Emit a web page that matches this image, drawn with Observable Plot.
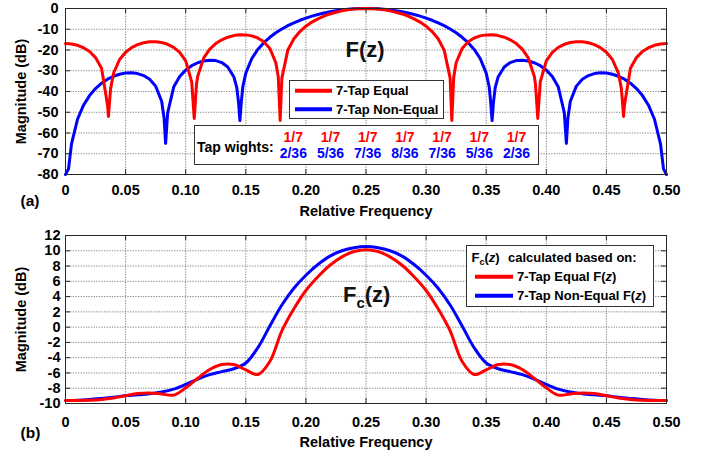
<!DOCTYPE html>
<html>
<head>
<meta charset="utf-8">
<script src="https://cdn.jsdelivr.net/npm/d3@7"></script>
<script src="https://cdn.jsdelivr.net/npm/@observablehq/plot@0.6"></script>
<style>
  body { margin: 0; background: #fff; }
  #chart { width: 710px; height: 457px; position: relative; overflow: hidden; }
  #chart svg { display: block; }
</style>
</head>
<body>
<div id="chart"></div>
<script>
// ---------- data ----------
const xTicks = [0, 0.05, 0.1, 0.15, 0.2, 0.25, 0.3, 0.35, 0.4, 0.45, 0.5];
const yTicksTop = [-80, -70, -60, -50, -40, -30, -20, -10, 0];
const yTicksBottom = [-10, -8, -6, -4, -2, 0, 2, 4, 6, 8, 10, 12];

const seriesNames = ["7-Tap Equal", "7-Tap Non-Equal"];
const seriesColors = ["#ff0000", "#0000ff"];
const fcLegendNames = ["7-Tap Equal F", "7-Tap Non-Equal F"];

const tapEqual = ["1/7", "1/7", "1/7", "1/7", "1/7", "1/7", "1/7"];
const tapNonEqual = ["2/36", "5/36", "7/36", "8/36", "7/36", "5/36", "2/36"];

// (a) F(z), 7-tap equal weights
const freqEqual = [0,0.005,0.01,0.015,0.02,0.025,0.03,0.035,0.0357,0.0375,0.04,0.045,0.05,0.055,0.06,0.065,0.07,0.075,0.08,0.085,0.09,0.095,0.1,0.105,0.1071,0.109,0.11,0.115,0.12,0.125,0.13,0.135,0.14,0.145,0.15,0.155,0.16,0.165,0.17,0.175,0.177,0.1786,0.18,0.185,0.19,0.195,0.2,0.205,0.21,0.215,0.22,0.225,0.23,0.235,0.24,0.245,0.25,
  0.255,0.26,0.265,0.27,0.275,0.28,0.285,0.29,0.295,0.3,0.305,0.31,0.315,0.32,0.3214,0.323,0.325,0.33,0.335,0.34,0.345,0.35,0.355,0.36,0.365,0.37,0.375,0.38,0.385,0.39,0.391,0.3929,0.395,0.4,0.405,0.41,0.415,0.42,0.425,0.43,0.435,0.44,0.445,0.45,0.455,0.46,0.4625,0.4643,0.465,0.47,0.475,0.48,0.485,0.49,0.495,0.5];
const magEqual = [-16.90,-17.11,-17.75,-18.91,-20.74,-23.65,-28.83,-46.75,-52,-38.74,-31.17,-24.57,-21.08,-18.87,-17.42,-16.51,-16.05,-16.01,-16.39,-17.25,-18.72,-21.12,-25.26,-35.38,-53,-36.4,-32.68,-23.81,-19.58,-16.90,-15.08,-13.84,-13.06,-12.69,-12.72,-13.20,-14.23,-16.04,-19.24,-26.16,-33.04,-54,-33.53,-19.97,-14.57,-11.09,-8.54,-6.56,-4.97,-3.68,-2.63,-1.79,-1.13,-0.63,-0.28,-0.07,0,
  -0.07,-0.28,-0.63,-1.13,-1.79,-2.63,-3.68,-4.97,-6.56,-8.54,-11.09,-14.57,-19.97,-33.53,-54,-33.04,-26.16,-19.24,-16.04,-14.23,-13.20,-12.72,-12.69,-13.06,-13.84,-15.08,-16.90,-19.58,-23.81,-32.68,-36.4,-53,-35.38,-25.26,-21.12,-18.72,-17.25,-16.39,-16.01,-16.05,-16.51,-17.42,-18.87,-21.08,-24.57,-31.17,-38.74,-52,-46.75,-28.83,-23.65,-20.74,-18.91,-17.75,-17.11,-16.90];

// (a) F(z), 7-tap non-equal weights
const freqNonEqual = [0,0.0025,0.005,0.01,0.015,0.02,0.025,0.03,0.035,0.04,0.045,0.05,0.055,0.06,0.065,0.07,0.075,0.08,0.082,0.0833,0.085,0.09,0.095,0.1,0.105,0.11,0.115,0.12,0.125,0.13,0.135,0.14,0.1425,0.144,0.1451,0.1462,0.1475,0.15,0.155,0.16,0.165,0.17,0.175,0.18,0.185,0.19,0.195,0.2,0.205,0.21,0.215,0.22,0.225,0.23,0.235,0.24,0.245,0.25,
  0.255,0.26,0.265,0.27,0.275,0.28,0.285,0.29,0.295,0.3,0.305,0.31,0.315,0.32,0.325,0.33,0.335,0.34,0.345,0.35,0.3525,0.3538,0.3549,0.356,0.3575,0.36,0.365,0.37,0.375,0.38,0.385,0.39,0.395,0.4,0.405,0.41,0.415,0.4167,0.418,0.42,0.425,0.43,0.435,0.44,0.445,0.45,0.455,0.46,0.465,0.47,0.475,0.48,0.485,0.49,0.495,0.4975,0.5];
const magNonEqual = [-80,-77.3,-65.27,-53.38,-46.60,-41.97,-38.57,-36.01,-34.08,-32.65,-31.68,-31.13,-31.01,-31.37,-32.33,-34.13,-37.41,-44.72,-52.7,-65,-50.24,-37.86,-32.81,-29.69,-27.57,-26.13,-25.25,-24.89,-25.11,-26.06,-28.18,-32.87,-38.14,-45.5,-54,-45.5,-37.83,-31.13,-24.10,-19.73,-16.49,-13.89,-11.72,-9.88,-8.28,-6.89,-5.67,-4.61,-3.68,-2.87,-2.17,-1.58,-1.09,-0.69,-0.39,-0.17,-0.04,0,
  -0.04,-0.17,-0.39,-0.69,-1.09,-1.58,-2.17,-2.87,-3.68,-4.61,-5.67,-6.89,-8.28,-9.88,-11.72,-13.89,-16.49,-19.73,-24.10,-31.13,-37.83,-45.5,-54,-45.5,-38.14,-32.87,-28.18,-26.06,-25.11,-24.89,-25.25,-26.13,-27.57,-29.69,-32.81,-37.86,-50.24,-65,-52.7,-44.72,-37.41,-34.13,-32.33,-31.37,-31.01,-31.13,-31.68,-32.65,-34.08,-36.01,-38.57,-41.97,-46.60,-53.38,-65.27,-77.3,-80];

// (b) Fc(z)
const freqFc = [0,0.01,0.02,0.03,0.04,0.05,0.06,0.07,0.08,0.09,0.1,0.11,0.12,0.13,0.14,0.15,0.16,0.17,0.18,0.19,0.2,0.21,0.22,0.23,0.24,0.25,
  0.26,0.27,0.28,0.29,0.3,0.31,0.32,0.33,0.34,0.35,0.36,0.37,0.38,0.39,0.4,0.41,0.42,0.43,0.44,0.45,0.46,0.47,0.48,0.49,0.5];
const fcEqual = [-9.6,-9.6,-9.58,-9.48,-9.28,-8.98,-8.7,-8.62,-8.75,-8.9,-7.95,-6.7,-5.55,-4.9,-4.9,-5.6,-6.2,-4.5,-0.5,2.4,4.8,6.6,8.1,9.2,9.9,10.15,
  9.9,9.2,8.1,6.6,4.8,2.4,-0.5,-4.5,-6.2,-5.6,-4.9,-4.9,-5.55,-6.7,-7.95,-8.9,-8.75,-8.62,-8.7,-8.98,-9.28,-9.48,-9.58,-9.6,-9.6];
const fcNonEqual = [-9.6,-9.56,-9.47,-9.33,-9.17,-9.0,-8.87,-8.72,-8.5,-8.12,-7.5,-6.8,-6.22,-5.83,-5.45,-4.7,-2.7,0.15,2.9,5.1,6.8,8.2,9.3,10.0,10.4,10.55,
  10.4,10.0,9.3,8.2,6.8,5.1,2.9,0.15,-2.7,-4.7,-5.45,-5.83,-6.22,-6.8,-7.5,-8.12,-8.5,-8.72,-8.87,-9.0,-9.17,-9.33,-9.47,-9.56,-9.6];

// ---------- helpers ----------
const FONT = "'Liberation Sans', Arial, Helvetica, sans-serif";
const rows = (fs, vs) => fs.map((f, i) => ({f, v: vs[i]}));
const xFmt = d => d === 0 ? "0" : d.toFixed(2);
const gridStyle = {stroke: "#858585", strokeOpacity: 1, strokeDasharray: "1.3,1.3", strokeWidth: 1};
const frameColor = "#262626";

function panel({height, marginTop, marginBottom, yDomain, yTicks, xPad, yPad, titleDy, tagDy, tag, lines, curve}) {
  const marginLeft = 65, marginRight = 44, width = 710;
  const innerH = height - marginTop - marginBottom;
  const innerW = width - marginLeft - marginRight;
  const tl = 5;
  return Plot.plot({
    width, height, marginTop, marginBottom, marginLeft, marginRight,
    style: {fontFamily: FONT, fontSize: "14.5px", fontWeight: "bold", color: "#000", background: "#fff"},
    x: {domain: [0, 0.5]},
    y: {domain: yDomain},
    marks: [
      Plot.gridX(xTicks, gridStyle),
      Plot.gridY(yTicks, gridStyle),
      ...lines.map(l => Plot.line(l.data, {x: "f", y: "v", stroke: l.color, strokeWidth: 3, curve})),
      Plot.frame({stroke: frameColor, strokeWidth: 1}),
      Plot.tickX(xTicks, {x: d => d, insetTop: innerH - tl, stroke: frameColor}),
      Plot.tickX(xTicks, {x: d => d, insetBottom: innerH - tl, stroke: frameColor}),
      Plot.tickY(yTicks, {y: d => d, insetRight: innerW - tl, stroke: frameColor}),
      Plot.tickY(yTicks, {y: d => d, insetLeft: innerW - tl, stroke: frameColor}),
      Plot.axisX(xTicks, {tickSize: 0, tickPadding: xPad, tickFormat: xFmt, label: null}),
      Plot.axisY(yTicks, {tickSize: 0, tickPadding: yPad, tickFormat: d => String(d), label: null}),
      Plot.text(["Magnitude (dB)"], {text: d => d, frameAnchor: "left", dx: -44, rotate: -90, textAnchor: "middle", lineAnchor: "middle"}),
      Plot.text(["Relative Frequency"], {text: d => d, frameAnchor: "bottom", dy: titleDy, lineAnchor: "bottom", textAnchor: "middle"}),
      Plot.text([tag], {text: d => d, frameAnchor: "bottom-left", dx: -45, dy: tagDy, textAnchor: "start", lineAnchor: "bottom", fontSize: 15.5})
    ]
  });
}

// ---------- panel (a) ----------
const topSvg = panel({
  height: 222, marginTop: 8, marginBottom: 48,
  yDomain: [-80, 0], yTicks: yTicksTop, xPad: 10, yPad: 7, titleDy: 41, tagDy: 31, tag: "(a)",
  curve: "linear",
  lines: [
    {data: rows(freqNonEqual, magNonEqual), color: seriesColors[1]},
    {data: rows(freqEqual, magEqual), color: seriesColors[0]}
  ]
});

// ---------- panel (b) ----------
const botSvg = panel({
  height: 235, marginTop: 13, marginBottom: 54,
  yDomain: [-10, 12], yTicks: yTicksBottom, xPad: 13, yPad: 5, titleDy: 43, tagDy: 34, tag: "(b)",
  curve: "catmull-rom",
  lines: [
    {data: rows(freqFc, fcNonEqual), color: seriesColors[1]},
    {data: rows(freqFc, fcEqual), color: seriesColors[0]}
  ]
});

const chart = document.getElementById("chart");
chart.append(topSvg, botSvg);

// ---------- annotations (a) ----------
const gT = d3.select(topSvg).append("g").attr("font-family", FONT).attr("font-weight", "bold").attr("text-anchor", "start");
gT.append("text").attr("x", 365).attr("y", 56.7).attr("text-anchor", "middle").attr("font-size", 22).attr("fill", "#111").text("F(z)");

gT.append("rect").attr("x", 289.5).attr("y", 80.5).attr("width", 154).attr("height", 38)
  .attr("fill", "#fff").attr("stroke", "#333").attr("stroke-width", 1);
seriesNames.forEach((name, i) => {
  const cy = 90.7 + i * 18.6;
  gT.append("line").attr("x1", 295).attr("x2", 332).attr("y1", cy).attr("y2", cy)
    .attr("stroke", seriesColors[i]).attr("stroke-width", 4);
  gT.append("text").attr("x", 336).attr("y", cy).attr("dy", "0.35em").attr("text-anchor", "start")
    .attr("font-size", 13).attr("fill", "#000").text(name);
});

gT.append("rect").attr("x", 194.5).attr("y", 125.5).attr("width", 344).attr("height", 39)
  .attr("fill", "#fff").attr("stroke", "#333").attr("stroke-width", 1);
gT.append("text").attr("x", 197).attr("y", 146.7).attr("dy", "0.35em").attr("text-anchor", "start")
  .attr("font-size", 14).attr("fill", "#000").text("Tap wights:");
tapEqual.forEach((t, i) => {
  gT.append("text").attr("x", 293.3 + i * 37.2).attr("y", 136.7).attr("dy", "0.35em").attr("text-anchor", "middle")
    .attr("font-size", 14).attr("fill", seriesColors[0]).text(t);
});
tapNonEqual.forEach((t, i) => {
  gT.append("text").attr("x", 293.3 + i * 37.2).attr("y", 153.3).attr("dy", "0.35em").attr("text-anchor", "middle")
    .attr("font-size", 14).attr("fill", seriesColors[1]).text(t);
});

// ---------- annotations (b) ----------
const gB = d3.select(botSvg).append("g").attr("font-family", FONT).attr("font-weight", "bold").attr("text-anchor", "start");
const fcTitle = gB.append("text").attr("x", 343).attr("y", 79.7).attr("text-anchor", "start").attr("font-size", 22).attr("fill", "#111");
fcTitle.append("tspan").text("F");
fcTitle.append("tspan").attr("font-size", 15).attr("dy", 6).text("c");
fcTitle.append("tspan").attr("dy", -6).text("(z)");

gB.append("rect").attr("x", 466.5).attr("y", 23.5).attr("width", 187).attr("height", 61)
  .attr("fill", "#fff").attr("stroke", "#333").attr("stroke-width", 1);
const lt = gB.append("text").attr("x", 471.5).attr("y", 35.3).attr("dy", "0.35em").attr("text-anchor", "start")
  .attr("font-size", 13).attr("fill", "#000");
lt.append("tspan").text("F");
lt.append("tspan").attr("font-size", 9).attr("dy", 3).text("c");
lt.append("tspan").attr("dy", -3).text("(");
lt.append("tspan").attr("font-style", "italic").text("z");
lt.append("tspan").text(")");
lt.append("tspan").attr("x", 508).text("calculated based on:");
fcLegendNames.forEach((name, i) => {
  const cy = 54.7 + i * 19;
  gB.append("line").attr("x1", 475).attr("x2", 513).attr("y1", cy).attr("y2", cy)
    .attr("stroke", seriesColors[i]).attr("stroke-width", 4);
  const t = gB.append("text").attr("x", 517).attr("y", cy).attr("dy", "0.35em").attr("text-anchor", "start")
    .attr("font-size", 13).attr("fill", "#000");
  t.append("tspan").text(name + "(");
  t.append("tspan").attr("font-style", "italic").text("z");
  t.append("tspan").text(")");
});
</script>
</body>
</html>
